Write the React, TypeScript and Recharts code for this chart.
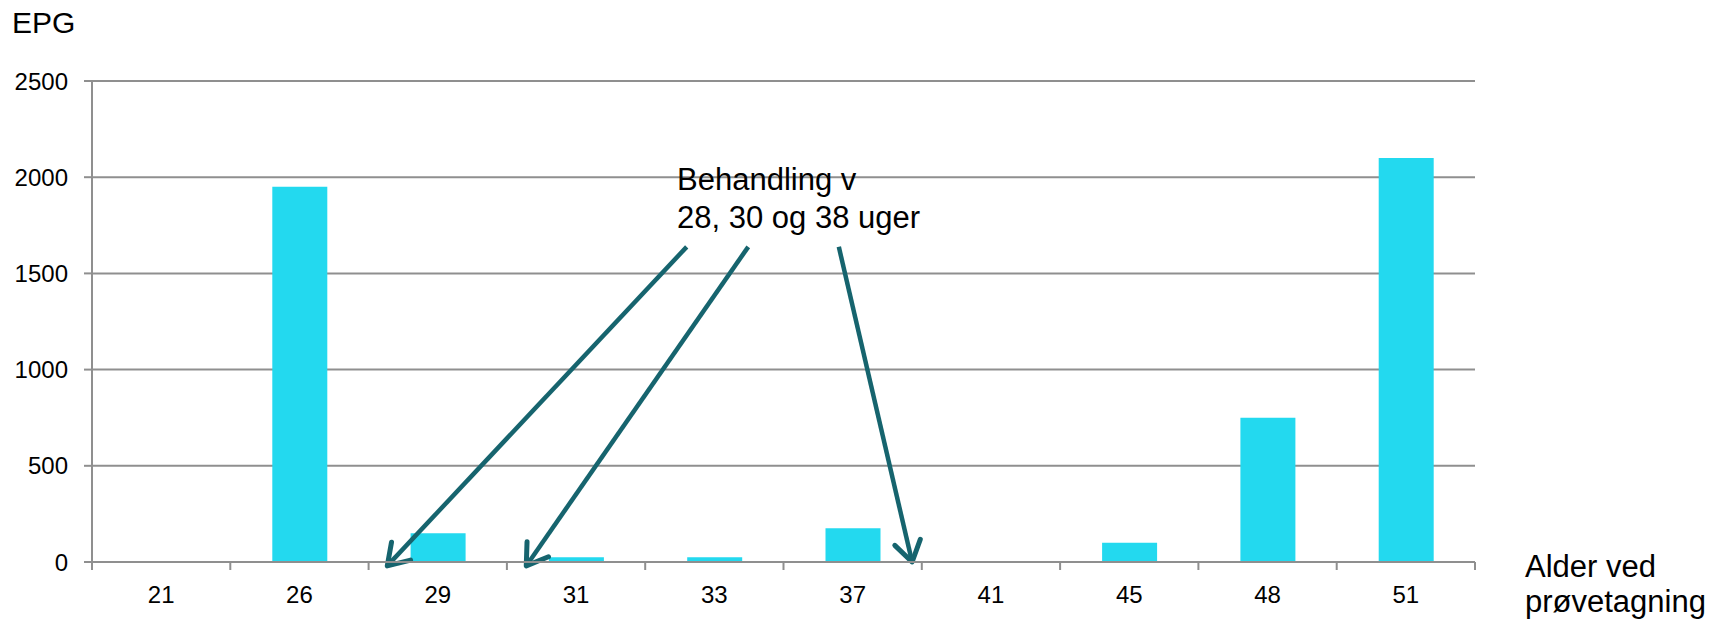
import React from 'react';
import { BarChart, Bar, XAxis, YAxis, CartesianGrid, ReferenceLine } from 'recharts';

const weeks = ['21', '26', '29', '31', '33', '37', '41', '45', '48', '51'];
const epg = [0, 1950, 150, 25, 25, 175, 0, 100, 750, 2100];
const yTicks = [0, 500, 1000, 1500, 2000, 2500];
const yTitle = 'EPG';
const xTitle = ['Alder ved', 'prøvetagning'];
const noteLines = ['Behandling v', '28, 30 og 38 uger'];
// arrows: start (in category-slot units, EPG value) -> tip
const arrowStartX = [4.3, 4.745, 5.4];
const arrowStartY = [1638, 1638, 1638];
const arrowTipX = [2.135, 3.14, 5.93];
const arrowTipY = [-20, -20, 0];

const data = weeks.map((w, i) => ({ week: w, slot: i + 0.5, epg: epg[i] }));
const arrows = arrowStartX.map((x, i) => ({
  x1: x,
  y1: arrowStartY[i],
  x2: arrowTipX[i],
  y2: arrowTipY[i],
}));

const W = 1728;
const H = 623;
const M = { top: 81, right: 253, bottom: 21, left: 0 };
const Y_W = 92;
const PLOT_W = W - M.right - Y_W;
const HALF = PLOT_W / weeks.length / 2;
const FONT = '"Liberation Sans", Arial, sans-serif';
const GRAY = '#8f8f8f';
const ARROW = '#16646e';

const XTick = (props: any) => {
  const { x, y, payload, index } = props;
  const top = y - 8;
  return (
    <g>
      <line x1={x - HALF} x2={x - HALF} y1={top} y2={y} stroke={GRAY} strokeWidth={2} />
      {index === weeks.length - 1 && (
        <line x1={x + HALF} x2={x + HALF} y1={top} y2={y} stroke={GRAY} strokeWidth={2} />
      )}
      <text x={x} y={y + 33} textAnchor="middle" fontSize={24} fontFamily={FONT} fill="#000">
        {payload.value}
      </text>
    </g>
  );
};

const arrowShape = (p: any) => {
  const { x1, y1, x2, y2 } = p;
  const dx = x2 - x1;
  const dy = y2 - y1;
  const len = Math.sqrt(dx * dx + dy * dy) || 1;
  const ux = dx / len;
  const uy = dy / len;
  const L = 24;
  const th = (33 * Math.PI) / 180;
  const rot = (a: number) => [ux * Math.cos(a) - uy * Math.sin(a), ux * Math.sin(a) + uy * Math.cos(a)];
  const [ax, ay] = rot(th);
  const [bx, by] = rot(-th);
  return (
    <g>
      <line x1={x1} y1={y1} x2={x2 - ux * 2} y2={y2 - uy * 2} stroke={ARROW} strokeWidth={4.5} />
      <path
        d={`M${x2 - L * ax},${y2 - L * ay} L${x2},${y2} L${x2 - L * bx},${y2 - L * by}`}
        fill="none"
        stroke={ARROW}
        strokeWidth={5}
        strokeLinejoin="round"
        strokeLinecap="round"
      />
    </g>
  );
};

export default function App() {
  return (
    <div style={{ position: 'absolute', left: 0, top: 0, width: W, height: H, background: '#fff' }}>
      <BarChart width={W} height={H} data={data} margin={M}>
        <CartesianGrid horizontal vertical={false} stroke={GRAY} strokeWidth={2} />
        <XAxis
          dataKey="week"
          height={40}
          axisLine={{ stroke: GRAY, strokeWidth: 2 }}
          tickLine={false}
          tickSize={8}
          tickMargin={0}
          tick={<XTick />}
          interval={0}
        />
        <XAxis
          xAxisId="n"
          dataKey="slot"
          type="number"
          domain={[0, 10]}
          hide
          height={0}
          allowDataOverflow
          padding={{ left: 0, right: 0 }}
        />
        <YAxis
          width={Y_W}
          domain={[0, 2500]}
          ticks={yTicks}
          interval={0}
          axisLine={{ stroke: GRAY, strokeWidth: 2 }}
          tickLine={{ stroke: GRAY, strokeWidth: 2 }}
          tickSize={8}
          tickMargin={16}
          tick={{ fontSize: 24, fill: '#000', fontFamily: FONT }}
          allowDataOverflow
        />
        <Bar dataKey="epg" fill="#23d9ef" barSize={55} isAnimationActive={false} />
        {arrows.map((a, i) => (
          <ReferenceLine
            key={i}
            xAxisId="n"
            segment={[
              { x: a.x1, y: a.y1 },
              { x: a.x2, y: a.y2 },
            ]}
            ifOverflow="visible"
            shape={arrowShape}
          />
        ))}
      </BarChart>
      <svg
        width={W}
        height={H}
        style={{ position: 'absolute', left: 0, top: 0, pointerEvents: 'none' }}
      >
        <text x={12} y={33} fontSize={30} fontFamily={FONT} fill="#000">
          {yTitle}
        </text>
        {noteLines.map((t, i) => (
          <text key={t} x={677} y={190 + i * 38} fontSize={31} fontFamily={FONT} fill="#000">
            {t}
          </text>
        ))}
        {xTitle.map((t, i) => (
          <text key={t} x={1525} y={577 + i * 35} fontSize={31} fontFamily={FONT} fill="#000">
            {t}
          </text>
        ))}
      </svg>
    </div>
  );
}
